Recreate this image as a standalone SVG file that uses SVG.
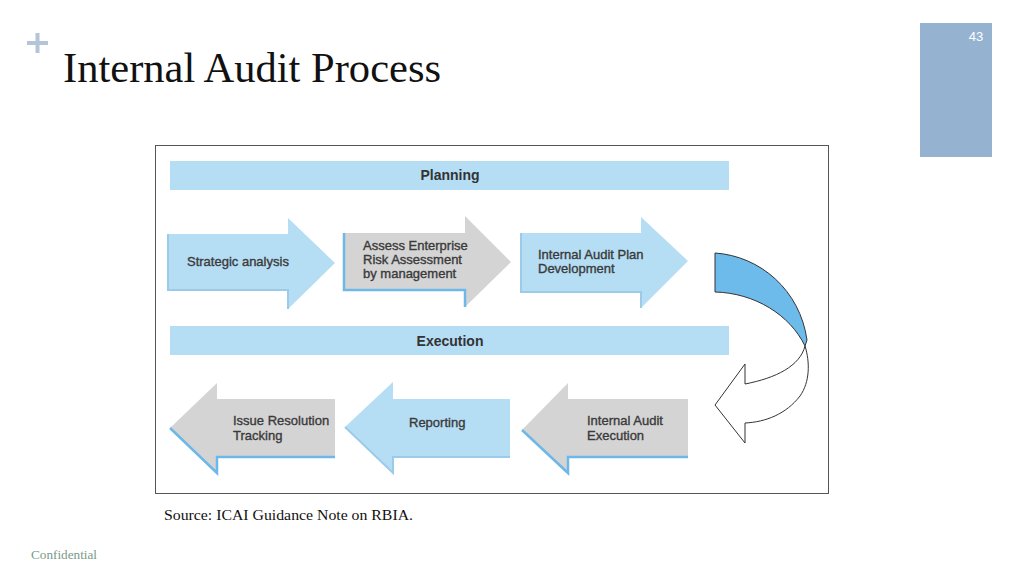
<svg xmlns="http://www.w3.org/2000/svg" width="1024" height="576" viewBox="0 0 1024 576">
<style>
.t{font-family:"Liberation Sans",Arial,sans-serif;font-size:13px;fill:#3a3a3a;stroke:#3a3a3a;stroke-width:0.35}
.h{font-family:"Liberation Sans",Arial,sans-serif;font-size:14px;font-weight:bold;fill:#333;text-anchor:middle}
.blue{fill:#b5ddf4}
.gray{fill:#d4d4d4}
.edge{fill:none;stroke:#6db8e8;stroke-width:2.5}
.edgeb{fill:none;stroke:#9ccbea;stroke-width:2}
.bar{fill:#b5ddf4}
</style>
<rect width="1024" height="576" fill="#fff"/>
<g id="plus" fill="#b4c5da">
<rect x="27" y="41" width="21" height="4"/>
<rect x="35.5" y="33" width="4" height="20"/>
</g>
<text x="63" y="82" font-family="Liberation Serif,Times New Roman,serif" font-size="42" fill="#111" textLength="378" lengthAdjust="spacingAndGlyphs">Internal Audit Process</text>
<g id="pagenum">
<rect x="920" y="23" width="72" height="134" fill="#95b3d1"/>
<text x="976" y="41" font-family="Liberation Sans,Arial,sans-serif" font-size="13" fill="#fff" text-anchor="middle">43</text>
</g>
<rect id="frame" x="155.5" y="145.5" width="673" height="348" fill="#fff" stroke="#555" stroke-width="1"/>
<g id="planning">
<rect class="bar" x="170" y="161" width="559" height="29"/>
<text class="h" x="450" y="180">Planning</text>
</g>
<g id="execution">
<rect class="bar" x="170" y="326" width="559" height="29"/>
<text class="h" x="450" y="346">Execution</text>
</g>
<g id="strategic">
<polygon class="blue" points="168,234 288,234 288,218 335,263 288,309 288,290 168,290"/>
<polyline class="edgeb" points="168,234 168,290 288,290 288,309"/>
<text class="t" x="187" y="266">Strategic analysis</text>
</g>
<g id="assess">
<polygon class="gray" points="344,233 465,233 465,216 511,262 465,307 465,290 344,290"/>
<polyline class="edge" points="344,233 344,290 465,290 465,307"/>
<text class="t" x="363" y="250">Assess Enterprise</text>
<text class="t" x="363" y="264">Risk Assessment</text>
<text class="t" x="363" y="278">by management</text>
</g>
<g id="plan">
<polygon class="blue" points="521,233 641,233 641,217 688,261 641,308 641,292 521,292"/>
<polyline class="edgeb" points="521,233 521,292 641,292 641,308"/>
<text class="t" x="538" y="259">Internal Audit Plan</text>
<text class="t" x="538" y="273">Development</text>
</g>
<g id="issue">
<polygon class="gray" points="335,399 217,399 217,383 170,428 217,473 217,457 335,457"/>
<polyline class="edge" points="170,428 217,473 217,457 335,457"/>
<text class="t" x="233" y="425">Issue Resolution</text>
<text class="t" x="233" y="440">Tracking</text>
</g>
<g id="reporting">
<polygon class="blue" points="510,399 393,399 393,382 345,427 393,473 393,457 510,457"/>
<polyline class="edgeb" points="345,427 393,473 393,457 510,457"/>
<text class="t" x="409" y="427">Reporting</text>
</g>
<g id="executionstep">
<polygon class="gray" points="688,399 568,399 568,383 522,430 568,473 568,457 688,457"/>
<polyline class="edge" points="522,430 568,473 568,457 688,457"/>
<text class="t" x="587" y="425">Internal Audit</text>
<text class="t" x="587" y="440">Execution</text>
</g>
<g id="connectors" stroke="#333" stroke-width="1">
<path d="M715,253 C760,256 800,290 807,340 L805,346 C790,315 755,293 715,292 Z" fill="#6cbbeb"/>
<path d="M805,346 C810,362 810,382 800,396 C786,414 766,422 745,423 L745,443 L715,405 L745,364 L745,384 C776,378 800,366 805,346 Z" fill="#fff"/>
</g>
<text x="164" y="520" font-family="Liberation Serif,Times New Roman,serif" font-size="14" fill="#111" textLength="249" lengthAdjust="spacingAndGlyphs">Source: ICAI Guidance Note on RBIA.</text>
<text x="31" y="559" font-family="Liberation Serif,Times New Roman,serif" font-size="12" fill="#7a9a8a" textLength="66" lengthAdjust="spacingAndGlyphs">Confidential</text>
</svg>
